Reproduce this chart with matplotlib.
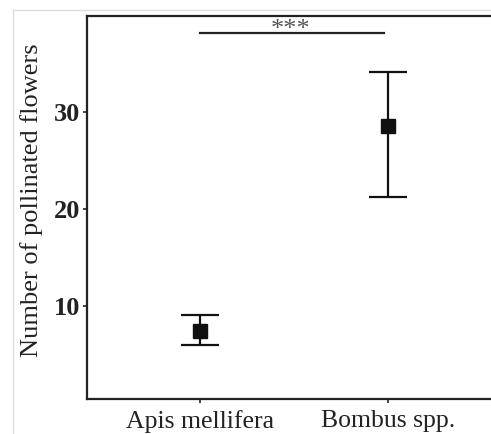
import numpy as np
import matplotlib.pyplot as plt
from matplotlib.lines import Line2D

species = ['Apis mellifera', 'Bombus spp.']
means = [7.4, 28.6]
lower = [6.0, 21.2]
upper = [9.1, 34.1]
yticks = [10, 20, 30]

plt.rcParams['font.family'] = ['Liberation Serif', 'DejaVu Serif']

fig = plt.figure(figsize=(4.91, 4.34), dpi=100)
ax = fig.add_axes([87 / 491, 1 - 399 / 434, 1 - 87 / 491, (399 - 16) / 434])

x = np.arange(len(species))
m = np.array(means)
err = [m - np.array(lower), np.array(upper) - m]
ax.errorbar(x, m, yerr=err, fmt='s', color='#111111', ms=10, elinewidth=1.6,
            capsize=13.5, capthick=1.6)

# significance bar
ax.plot([0, 0.98], [38.1, 38.1], color='#222222', lw=1.6)
ax.text(0.48, 37.85, '***', ha='center', va='baseline', fontsize=19, color='#555555')

ax.set_xlim(-0.601, 1.548)
ax.set_ylim(0.4, 39.9)
ax.set_xticks(x)
ax.set_xticklabels(species, fontsize=18.5, color='#222222')
ax.set_yticks(yticks)
ax.set_yticklabels([str(t) for t in yticks], fontsize=19, fontweight='bold', color='#222222')
ax.set_ylabel('Number of pollinated flowers', fontsize=19, color='#222222')
ax.yaxis.set_label_coords(-0.108, 0.52)

for s in ['left', 'bottom', 'top']:
    ax.spines[s].set_linewidth(1.6)
    ax.spines[s].set_color('#222222')
ax.spines['right'].set_visible(False)
ax.tick_params(length=3, width=1.2, color='#222222')
ax.tick_params(axis='y', pad=2)
ax.tick_params(axis='x', pad=5)

# faint frame of the original image
fig.add_artist(Line2D([13 / 491, 13 / 491], [0, 1 - 10 / 434], transform=fig.transFigure,
                      color='#dddddd', lw=1))
fig.add_artist(Line2D([13 / 491, 1], [1 - 10 / 434, 1 - 10 / 434], transform=fig.transFigure,
                      color='#dddddd', lw=1))

fig.savefig('out.png', dpi=100)
